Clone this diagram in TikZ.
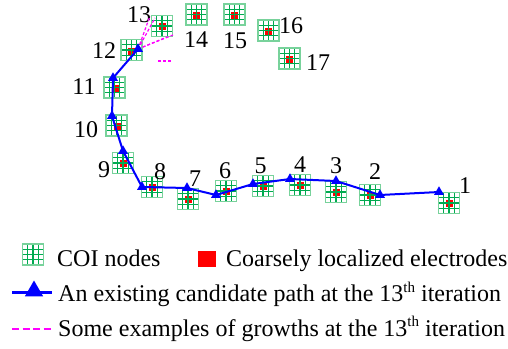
\documentclass[tikz,border=0pt]{standalone}
\usepackage{fontspec}
\setmainfont{Liberation Serif}
\usetikzlibrary{calc,shapes.geometric}
\definecolor{gridgreen}{RGB}{0,170,80}
\definecolor{gridlight}{RGB}{120,210,155}
\definecolor{elecred}{RGB}{255,0,0}
\definecolor{pathblue}{RGB}{0,0,255}
\definecolor{growmag}{RGB}{255,0,255}
\tikzset{
  coi/.style={rectangle, minimum size=21pt, inner sep=0pt, draw=gridlight, line width=1.2pt,
    path picture={
      \coordinate (bsw) at (path picture bounding box.south west);
      \coordinate (bse) at (path picture bounding box.south east);
      \coordinate (bnw) at (path picture bounding box.north west);
      \coordinate (bne) at (path picture bounding box.north east);
      \foreach \i in {1,2,3}{
        \draw[gridgreen, line width=1.2pt] ($(bsw)!\i/4!(bse)$) -- ($(bnw)!\i/4!(bne)$);
        \draw[gridgreen, line width=1.2pt] ($(bsw)!\i/4!(bnw)$) -- ($(bse)!\i/4!(bne)$);
      }
    }},
  elec/.style={rectangle, fill=elecred, minimum size=7pt, inner sep=0pt},
  lbl/.style={anchor=base, inner sep=0pt},
  legtxt/.style={anchor=base west, inner sep=0pt},
  tri/.style={regular polygon, regular polygon sides=3, fill=pathblue, inner sep=0pt, minimum size=11.5pt},
  bigtri/.style={regular polygon, regular polygon sides=3, fill=pathblue, inner sep=0pt, minimum size=21pt},
  pathline/.style={draw=pathblue, line width=2pt},
  growline/.style={draw=growmag, line width=1.2pt, dash pattern=on 3pt off 2pt},
}
\newcommand{\supth}{\raisebox{0.85ex}{\fontsize{15}{15}\selectfont th}}
\begin{document}
\begin{tikzpicture}[x=1pt, y=-1pt, font=\fontsize{24}{28}\selectfont]
\useasboundingbox (0,0) rectangle (508,348);
% electrodes (under the grids)
\foreach \n/\x/\y in {1/449/203.5, 2/370/195.5, 3/336/192, 4/300/185.5, 5/263.5/186.5, 6/226.5/191, 7/188/199.5, 8/152.5/187.5, 9/123/163, 10/117/126, 11/115.5/88.5, 12/131/51, 13/162/26.5, 14/196.5/15, 15/234.5/15, 16/268.5/31, 17/289.5/59}
  {\node[elec] (e\n) at (\x,\y) {};}
% COI nodes
\node[coi] (n1) at (449,203) {};
\node[coi] (n2) at (370,195) {};
\node[coi] (n3) at (336,192) {};
\node[coi] (n4) at (300,185) {};
\node[coi] (n5) at (263,186) {};
\node[coi] (n6) at (226,191) {};
\node[coi] (n7) at (188,199) {};
\node[coi] (n8) at (152,187) {};
\node[coi] (n9) at (123,163) {};
\node[coi] (n10) at (116.5,125.5) {};
\node[coi] (n11) at (114.5,87.5) {};
\node[coi] (n12) at (131.5,50) {};
\node[coi] (n13) at (162,26) {};
\node[coi] (n14) at (196.5,14.5) {};
\node[coi] (n15) at (234.5,14.5) {};
\node[coi] (n16) at (268.5,30.5) {};
\node[coi] (n17) at (289.5,58.5) {};
% labels
\node[lbl] (l1) at (465,193) {1};
\node[lbl] (l2) at (375,179) {2};
\node[lbl] (l3) at (336,173) {3};
\node[lbl] (l4) at (300,172) {4};
\node[lbl] (l5) at (260.5,173) {5};
\node[lbl] (l6) at (225,178) {6};
\node[lbl] (l7) at (195,186) {7};
\node[lbl] (l8) at (160,179) {8};
\node[lbl] (l9) at (104,177) {9};
\node[lbl] (l10) at (86,137) {10};
\node[lbl] (l11) at (84,94) {11};
\node[lbl] (l12) at (104,58) {12};
\node[lbl] (l13) at (139,22) {13};
\node[lbl] (l14) at (196,47) {14};
\node[lbl] (l15) at (235,48) {15};
\node[lbl] (l16) at (291,33) {16};
\node[lbl] (l17) at (318,70) {17};
% path vertices
\coordinate (p1) at (439,192);
\coordinate (p2) at (380,195);
\coordinate (p3) at (336,181);
\coordinate (p4) at (290,179);
\coordinate (p5) at (253,184);
\coordinate (p6) at (216,195);
\coordinate (p7) at (187,188);
\coordinate (p8) at (142,187);
\coordinate (p9) at (123,151);
\coordinate (p10) at (112,116);
\coordinate (p11) at (113,78);
\coordinate (p12) at (138,49);
% growth ends
\coordinate (g1) at (150,16);
\coordinate (g2) at (155,18);
\coordinate (g3) at (167,37);
\coordinate (g4) at (173,35);
\coordinate (d1) at (158,61);
\coordinate (d2) at (171,61);
\draw[growline] (p12) -- (g1);
\draw[growline] (p12) -- (g2);
\draw[growline] (p12) -- (g3);
\draw[growline] (p12) -- (g4);
\draw[growline] (d1) -- (d2);
% candidate path
\draw[pathline, line join=round] (p1) -- (p2) -- (p3) -- (p4) -- (p5) -- (p6) -- (p7) -- (p8) -- (p9) -- (p10) -- (p11) -- (p12);
\foreach \k in {1,...,12}{\node[tri] (t\k) at (p\k) {};}
% legend
\node[coi] (lg1) at (33,254.5) {};
\node[legtxt] (lt1) at (57,266.5) {COI nodes};
\node[fill=elecred, minimum width=18pt, minimum height=16pt, inner sep=0pt] (lg2) at (207,259) {};
\node[legtxt] (lt2) at (226,266.5) {Coarsely localized electrodes};
\coordinate (la) at (12,292);
\coordinate (lb) at (52,292);
\draw[draw=pathblue, line width=3pt] (la) -- (lb);
\node[bigtri] (lg3) at (34,291) {};
\node[legtxt] (lt3) at (58,301.5) {An existing candidate path at the 13\supth{} iteration};
\coordinate (lc) at (12,329);
\coordinate (ld) at (52,329);
\draw[draw=growmag, line width=1.6pt, dash pattern=on 7pt off 3.5pt] (lc) -- (ld);
\node[legtxt] (lt4) at (58,336) {Some examples of growths at the 13\supth{} iteration};
\end{tikzpicture}
\end{document}
